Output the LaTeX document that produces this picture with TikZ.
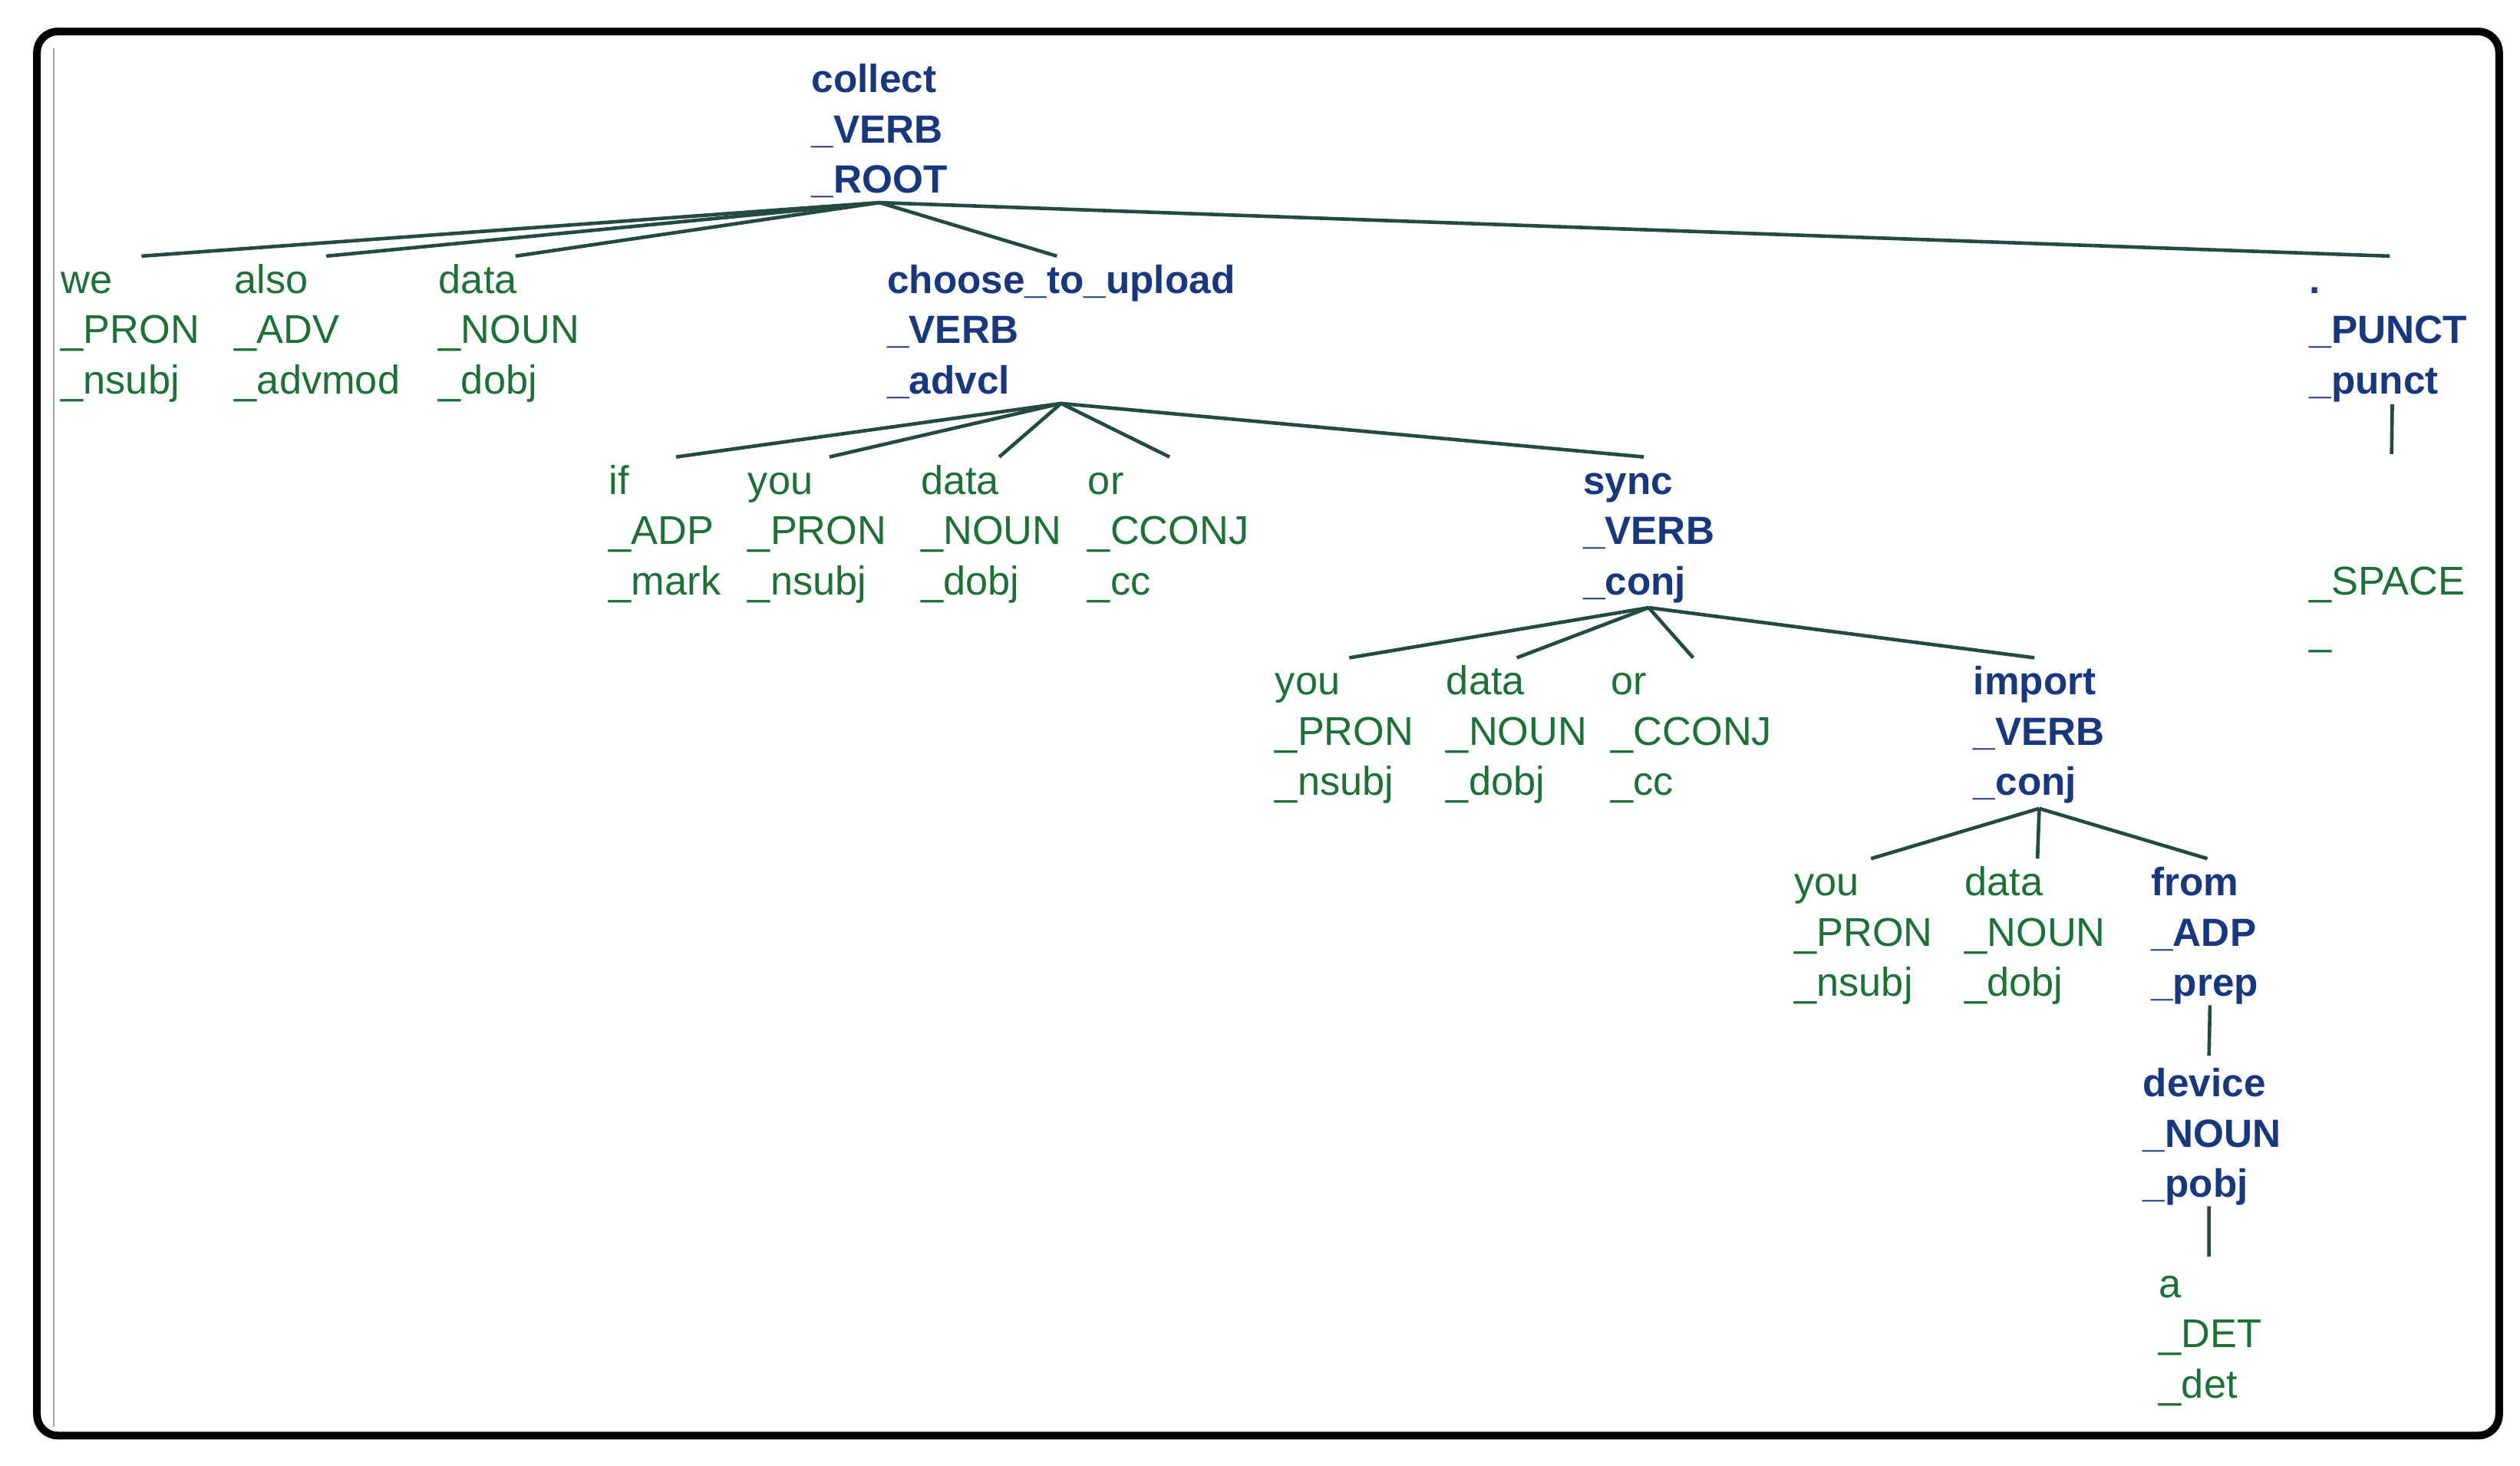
\documentclass[tikz,border=0pt]{standalone}
\usepackage{fontspec}
\setmainfont{Liberation Sans}
\definecolor{tgreen}{RGB}{30,112,55}
\definecolor{tblue}{RGB}{25,55,125}
\definecolor{tline}{RGB}{35,75,65}
\begin{document}
\begin{tikzpicture}[x=1pt,y=-1pt,
  tok/.style={anchor=north west,inner sep=0pt,outer sep=0pt,align=left,
    font=\fontsize{25}{31.3}\selectfont,text=tgreen},
  head/.style={tok,font=\fontsize{24.5}{31.3}\selectfont\bfseries,text=tblue},
  dep/.style={draw=tline,line width=2.2pt}]
\useasboundingbox (0,0) rectangle (1568,912);
\draw[line width=4.8pt,rounded corners=13pt] (23,19.6) rectangle (1555,893.5);
\draw[black!35,line width=0.8pt] (33.5,30) -- (33.5,888);
% level 1
\node[head] (root) at (505,35.6) {\strut collect\\\_VERB\\\_ROOT};
% level 2
\node[tok] (we) at (38,160.6) {\strut we\\\_PRON\\\_nsubj};
\node[tok] (also) at (146,160.6) {\strut also\\\_ADV\\\_advmod};
\node[tok] (data1) at (273,160.6) {\strut data\\\_NOUN\\\_dobj};
\node[head] (choose) at (552,160.6) {\strut choose\_to\_upload\\\_VERB\\\_advcl};
\node[head] (punct) at (1437,160.6) {\strut .\\\_PUNCT\\\_punct};
% level 3
\node[tok] (if) at (379,285.6) {\strut if\\\_ADP\\\_mark};
\node[tok] (you1) at (465.5,285.6) {\strut you\\\_PRON\\\_nsubj};
\node[tok] (data2) at (573,285.6) {\strut data\\\_NOUN\\\_dobj};
\node[tok] (or1) at (677,285.6) {\strut or\\\_CCONJ\\\_cc};
\node[head] (sync) at (985,285.6) {\strut sync\\\_VERB\\\_conj};
\node[tok] (space) at (1437,285.6) {\strut\\\strut\\\_SPACE\\\_};
% level 4
\node[tok] (you2) at (793.5,410.6) {\strut you\\\_PRON\\\_nsubj};
\node[tok] (data3) at (900,410.6) {\strut data\\\_NOUN\\\_dobj};
\node[tok] (or2) at (1002.5,410.6) {\strut or\\\_CCONJ\\\_cc};
\node[head] (import) at (1228,410.6) {\strut import\\\_VERB\\\_conj};
% level 5
\node[tok] (you3) at (1116.5,535.6) {\strut you\\\_PRON\\\_nsubj};
\node[tok] (data4) at (1222.5,535.6) {\strut data\\\_NOUN\\\_dobj};
\node[head] (from) at (1338.5,535.6) {\strut from\\\_ADP\\\_prep};
% level 6, 7
\node[head] (device) at (1333.5,660.6) {\strut device\\\_NOUN\\\_pobj};
\node[tok] (a) at (1343.5,785.6) {\strut a\\\_DET\\\_det};
% edges
\draw[dep] ([yshift=-3pt]root.south) -- ([xshift=7pt,yshift=1.2pt]we.north);
\draw[dep] ([yshift=-3pt]root.south) -- ([xshift=5.6pt,yshift=1.2pt]also.north);
\draw[dep] ([yshift=-3pt]root.south) -- ([xshift=4pt,yshift=1.2pt]data1.north);
\draw[dep] ([yshift=-3pt]root.south) -- ([xshift=-2.6pt,yshift=1.2pt]choose.north);
\draw[dep] ([yshift=-3pt]root.south) -- ([xshift=1pt,yshift=1.2pt]punct.north);
\draw[dep] ([yshift=-3pt]choose.south) -- ([xshift=7pt,yshift=1.2pt]if.north);
\draw[dep] ([yshift=-3pt]choose.south) -- ([xshift=7.5pt,yshift=1.2pt]you1.north);
\draw[dep] ([yshift=-3pt]choose.south) -- ([xshift=5pt,yshift=1.2pt]data2.north);
\draw[dep] ([yshift=-3pt]choose.south) -- ([xshift=0.7pt,yshift=1.2pt]or1.north);
\draw[dep] ([yshift=-3pt]choose.south) -- ([xshift=-3pt,yshift=1.2pt]sync.north);
\draw[dep] ([yshift=-3pt]sync.south) -- ([xshift=3pt,yshift=1.2pt]you2.north);
\draw[dep] ([yshift=-3pt]sync.south) -- ([yshift=1.2pt]data3.north);
\draw[dep] ([yshift=-3pt]sync.south) -- ([xshift=1pt,yshift=1.2pt]or2.north);
\draw[dep] ([yshift=-3pt]sync.south) -- ([xshift=-3pt,yshift=1.2pt]import.north);
\draw[dep] ([yshift=-3pt]import.south) -- ([xshift=4.6pt,yshift=1.2pt]you3.north);
\draw[dep] ([yshift=-3pt]import.south) -- ([xshift=1.5pt,yshift=1.2pt]data4.north);
\draw[dep] ([yshift=-3pt]import.south) -- ([xshift=1.6pt,yshift=1.2pt]from.north);
\draw[dep] ([xshift=3.2pt,yshift=-0.5pt]from.south) -- ([xshift=-1.9pt,yshift=3.5pt]device.north);
\draw[dep] ([xshift=-1.9pt,yshift=-0.5pt]device.south) -- ([xshift=-1pt,yshift=3.5pt]a.north);
\draw[dep] ([xshift=2.5pt,yshift=-1.5pt]punct.south) -- ([xshift=2.7pt,yshift=3pt]space.north);
\end{tikzpicture}
\end{document}
